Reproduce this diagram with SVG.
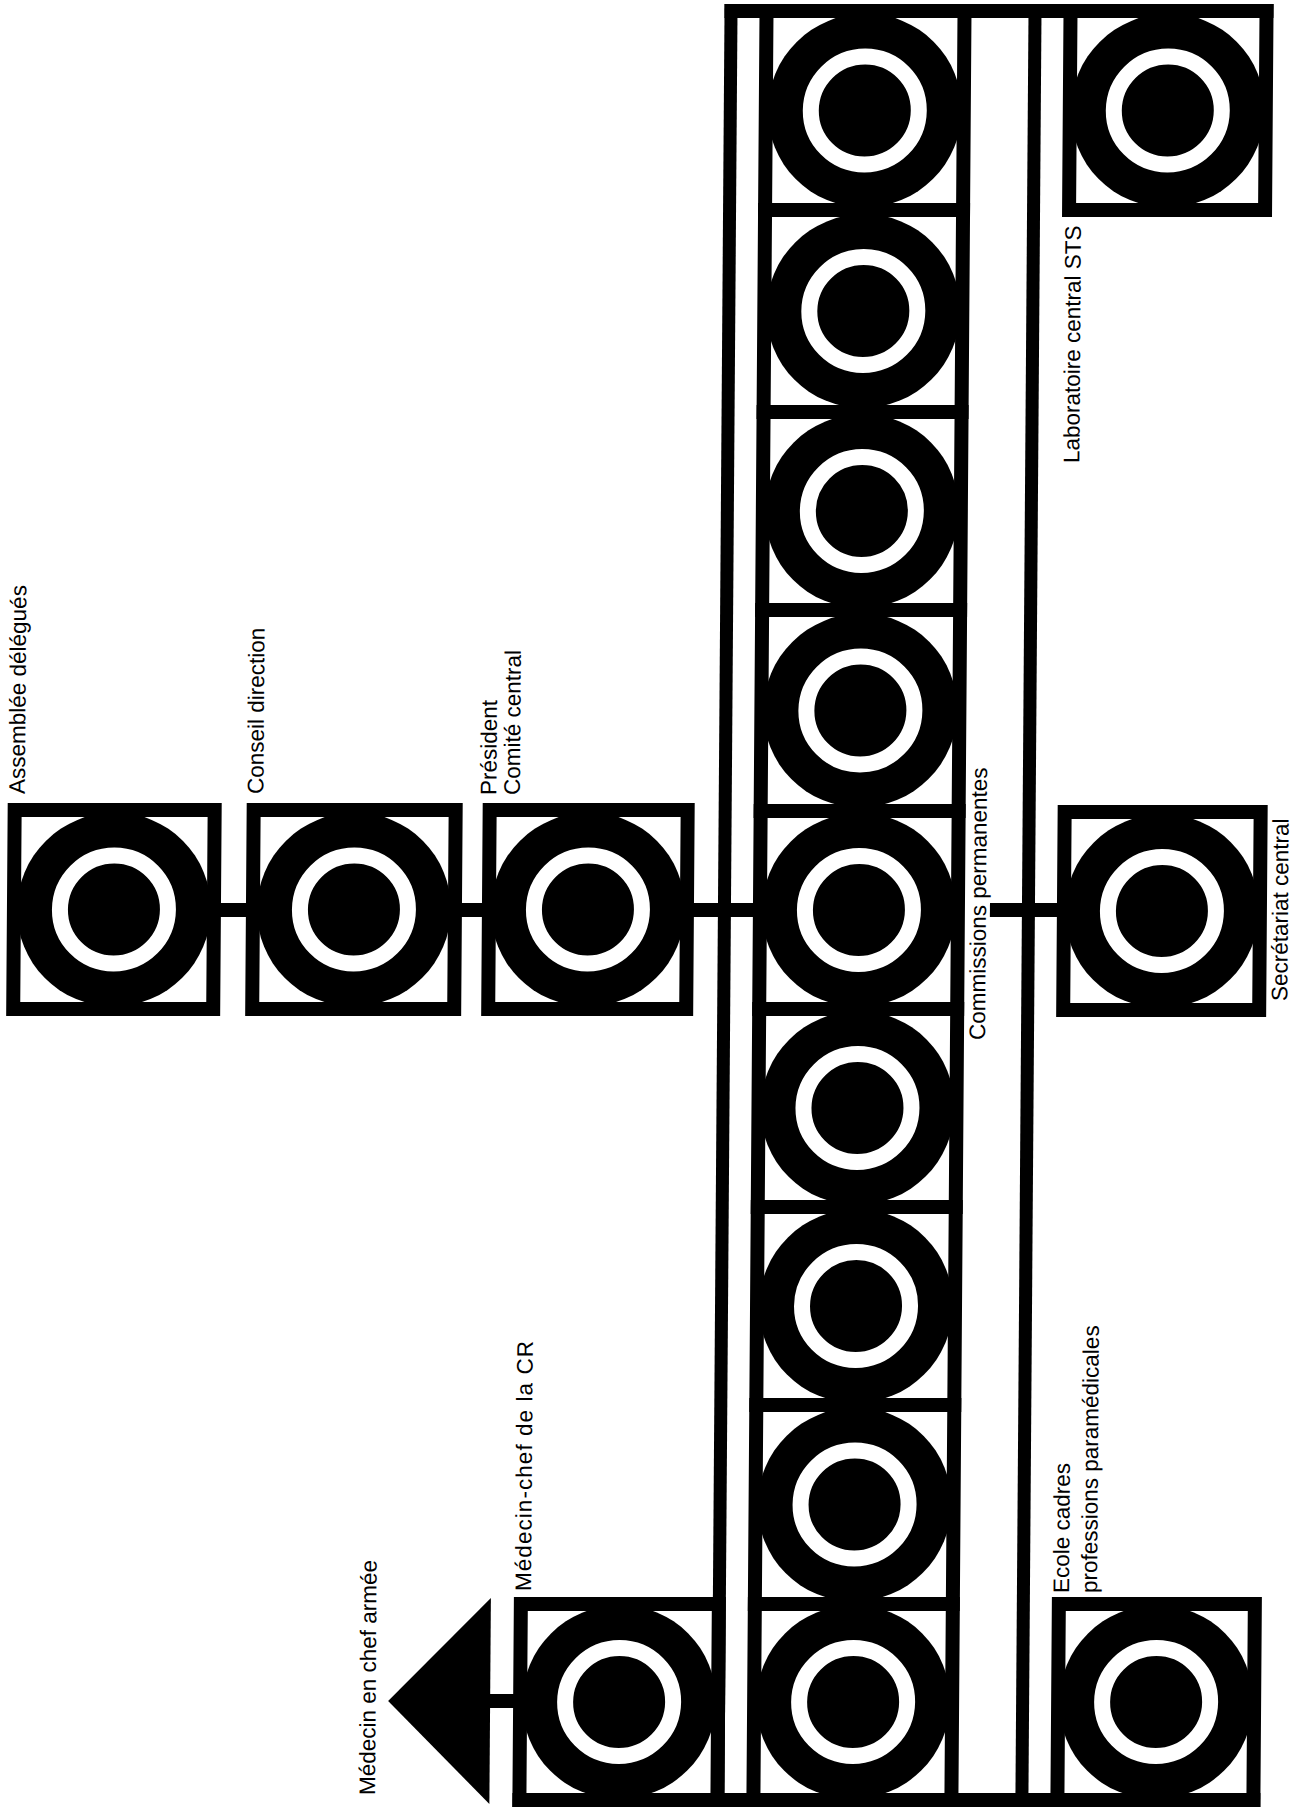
<svg xmlns="http://www.w3.org/2000/svg" width="1294" height="1807" viewBox="0 0 1294 1807">
<style>
.bx{fill:#fff;stroke:#000;stroke-width:14}
.ro{fill:#000}
.ri{fill:none;stroke:#fff;stroke-width:16}
.bar{fill:#000}
text{font-family:"Liberation Sans",Arial,Helvetica,sans-serif;font-size:22.5px;fill:#000}
</style>
<defs>
<g id="ring"><circle r="97" class="ro"/><circle r="54" class="ri"/></g>
</defs>
<rect width="1294" height="1807" fill="#fff"/>
<g transform="translate(0,900) skewX(-0.42) translate(0,-900)">
<g id="connectors">
<rect class="bar" x="718" y="4" width="549" height="14"/>
<rect class="bar" x="718" y="4" width="13" height="1803"/>
<rect class="bar" x="1022" y="4" width="13" height="1803"/>
<rect class="bar" x="519" y="1793" width="748" height="14"/>
<rect class="bar" x="214" y="903" width="39" height="14"/>
<rect class="bar" x="455" y="903" width="34" height="14"/>
<rect class="bar" x="687" y="903" width="73" height="14"/>
<rect class="bar" x="990" y="903" width="74" height="14"/>
<rect class="bar" x="490" y="1694" width="36" height="14"/>
<polygon class="bar" points="496,1598 496,1804 394,1701"/>
</g>
<g id="n-assemblee"><rect class="bx" x="14" y="810" width="200" height="199"/><use href="#ring" x="114" y="909.5"/></g>
<g id="n-conseil"><rect class="bx" x="253" y="810" width="202" height="199"/><use href="#ring" x="354" y="909.5"/></g>
<g id="n-president"><rect class="bx" x="489" y="810" width="198" height="199"/><use href="#ring" x="588" y="909.5"/></g>
<g id="n-c0"><rect class="bx" x="760" y="11" width="198" height="199"/><use href="#ring" x="859" y="110.5"/></g>
<g id="n-c1"><rect class="bx" x="760" y="210" width="198" height="202"/><use href="#ring" x="859" y="311"/></g>
<g id="n-c2"><rect class="bx" x="760" y="412" width="198" height="198"/><use href="#ring" x="859" y="511"/></g>
<g id="n-c3"><rect class="bx" x="760" y="610" width="198" height="201"/><use href="#ring" x="859" y="710.5"/></g>
<g id="n-commissions"><rect class="bx" x="760" y="811" width="198" height="198"/><use href="#ring" x="859" y="910"/></g>
<g id="n-c5"><rect class="bx" x="760" y="1009" width="198" height="198"/><use href="#ring" x="859" y="1108"/></g>
<g id="n-c6"><rect class="bx" x="760" y="1207" width="198" height="198"/><use href="#ring" x="859" y="1306"/></g>
<g id="n-c7"><rect class="bx" x="760" y="1405" width="198" height="199"/><use href="#ring" x="859" y="1504.5"/></g>
<g id="n-c8"><rect class="bx" x="760" y="1604" width="198" height="196"/><use href="#ring" x="859" y="1702"/></g>
<g id="n-laboratoire"><rect class="bx" x="1064" y="11" width="196" height="199"/><use href="#ring" x="1162" y="110.5"/></g>
<g id="n-secretariat"><rect class="bx" x="1064" y="812" width="196" height="198"/><use href="#ring" x="1162" y="911"/></g>
<g id="n-ecole"><rect class="bx" x="1064" y="1604" width="196" height="196"/><use href="#ring" x="1162" y="1702"/></g>
<g id="n-medecin-chef"><rect class="bx" x="526" y="1604" width="198" height="196"/><use href="#ring" x="625" y="1702"/></g>
<g id="labels">
<text transform="translate(24,794) rotate(-90)">Assemblée délégués</text>
<text transform="translate(262.5,794) rotate(-90)">Conseil direction</text>
<text transform="translate(495.5,795) rotate(-90)">Président</text>
<text transform="translate(519,795) rotate(-90)">Comité central</text>
<text transform="translate(986,1040) rotate(-90)">Commissions permanentes</text>
<text transform="translate(1288,1001) rotate(-90)">Secrétariat central</text>
<text transform="translate(1076,463) rotate(-90)">Laboratoire central STS</text>
<text transform="translate(536,1591) rotate(-90)" textLength="250" lengthAdjust="spacing">Médecin-chef de la CR</text>
<text transform="translate(381.5,1795) rotate(-90)">Médecin en chef armée</text>
<text transform="translate(1074,1593) rotate(-90)">Ecole cadres</text>
<text transform="translate(1102,1593) rotate(-90)">professions paramédicales</text>
</g>
</g>
</svg>
